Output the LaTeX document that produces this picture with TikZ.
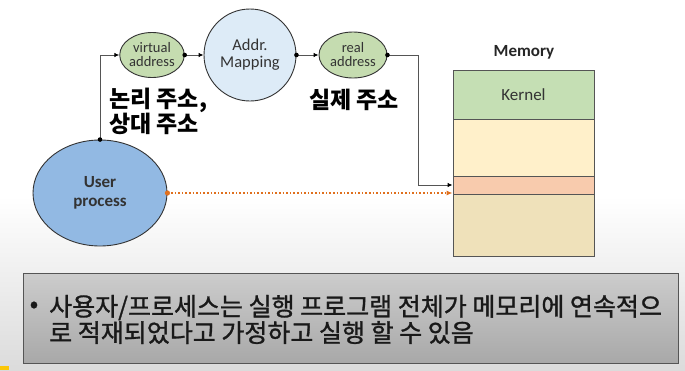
\documentclass[tikz,border=0pt]{standalone}
\usepackage{fontspec}
\setmainfont{Carlito}
\newfontfamily\kr{Noto Sans CJK KR}
\newfontfamily\krm[FakeBold=1.2]{Noto Sans CJK KR}
\usetikzlibrary{arrows.meta,shapes.geometric,calc}
\definecolor{upblue}{HTML}{92B9E3}
\definecolor{mapblue}{HTML}{DDEBF7}
\definecolor{addrgreen}{HTML}{C5DCB0}
\definecolor{kernelgreen}{HTML}{C5DFB4}
\definecolor{memyellow}{HTML}{FFF0CA}
\definecolor{memyellowb}{HTML}{EFE1BA}
\definecolor{memorange}{HTML}{F8CBAD}
\definecolor{dotorange}{HTML}{E0701E}
\definecolor{linegray}{HTML}{555555}
\definecolor{darktext}{HTML}{333333}
\tikzset{
  conn/.style={draw=linegray, line width=0.9pt, -{Latex[length=5pt,width=4.5pt,color=black]}},
  blob/.style={ellipse, draw=darktext, line width=0.9pt, align=center, inner sep=0pt},
  memseg/.style={rectangle, draw=linegray, line width=0.9pt, minimum width=141pt, inner sep=0pt},
  krlabel/.style={font=\kr\bfseries\fontsize{23}{23.5}\selectfont, align=left, text=black, inner sep=0pt},
}
\begin{document}
\begin{tikzpicture}[x=1pt,y=-1pt]
\useasboundingbox (0,0) rectangle (685,370);
\fill[white] (0,0) rectangle (685,196);
\shade[top color=white, bottom color=black!14] (0,196) rectangle (685,370);
\fill[yellow!60!orange] (0,366) rectangle (9,370);

% nodes
\node[blob, fill=upblue, minimum width=134pt, minimum height=106pt,
      font=\bfseries\fontsize{17}{19}\selectfont, text=darktext] (up) at (100,193) {User\\process};
\node[blob, fill=addrgreen, minimum width=64pt, minimum height=45pt,
      font=\fontsize{14.5}{14}\selectfont, text=darktext] (va) at (152,55) {virtual\\address};
\node[blob, circle, fill=mapblue, minimum size=92pt,
      font=\fontsize{16.5}{17}\selectfont, text=darktext] (map) at (250,55) {Addr.\\Mapping};
\node[blob, fill=addrgreen, minimum width=68pt, minimum height=46pt,
      font=\fontsize{14.5}{14}\selectfont, text=darktext] (ra) at (353,55) {real\\address};

% memory
\node[font=\bfseries\fontsize{17}{19}\selectfont, text=black!85] (memlbl) at (524,52) {Memory};
\node[memseg, fill=kernelgreen, minimum height=49pt, font=\fontsize{17}{19}\selectfont, text=darktext] (kern) at (523.5,94.5) {Kernel};
\node[memseg, fill=memyellow, minimum height=57pt] (y1) at (523.5,147.5) {};
\node[memseg, fill=memorange, minimum height=18pt] (seg) at (523.5,185) {};
\node[memseg, fill=memyellowb, minimum height=62pt] (y2) at (523.5,225) {};

% labels
\node[krlabel, anchor=west] (lbl1) at (109,111.5) {논리 주소,\\상대 주소};
\node[krlabel, anchor=west] (lbl2) at (309,100) {실제 주소};

% connectors
\coordinate (bend) at (418,55);
\draw[conn] (up.north) |- (va.west);
\draw[conn] (va.east) -- (map.west);
\draw[conn] (map.east) -- (ra.west);
\draw[conn] (ra.east) -- (bend) |- (seg.west);
\foreach \p in {up.north, va.east, map.east, ra.east}
  \fill[black] (\p) circle (2.3pt);
\draw[dotorange, line width=1.6pt, dotted, -{Latex[length=6pt,width=5pt]}] (up.east) -- (up.east -| seg.west);
\fill[dotorange] (up.east) circle (2.6pt);

% note box
\node[draw=linegray, line width=1pt, top color=black!20, bottom color=black!34,
      minimum width=655pt, minimum height=90pt, anchor=north west, inner sep=0pt] (note) at (23,273) {};
\node[font=\krm\fontsize{25}{25}\selectfont, text=black!90, inner sep=0pt] (bul) at (34,307) {•};
\node[font=\krm\fontsize{25}{25}\selectfont, text=black!90, align=left, anchor=west, inner sep=0pt] (notetext) at (49,319.5)
  {사용자/프로세스는 실행 프로그램 전체가 메모리에 연속적으\\로 적재되었다고 가정하고 실행 할 수 있음};
\end{tikzpicture}
\end{document}
